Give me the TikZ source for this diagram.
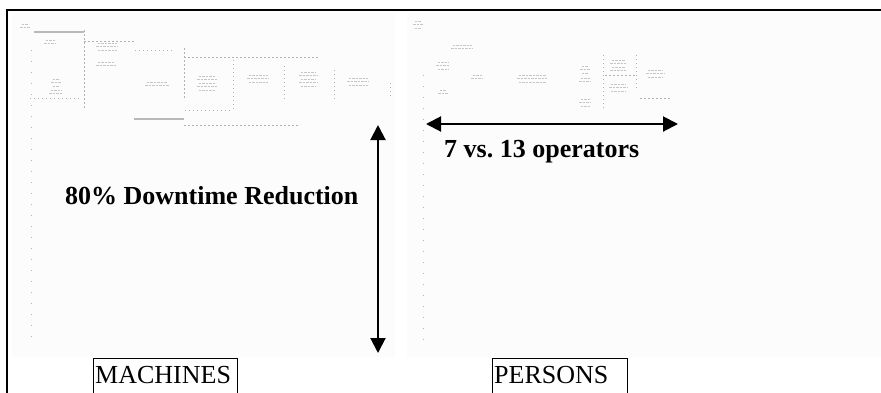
\documentclass[tikz,border=0pt]{standalone}
\usepackage{fontspec}
\setmainfont{Liberation Serif}
\usetikzlibrary{arrows.meta}
\newcommand\myscrib[4]{% cx, top y, width, lines
  \foreach \k in {1,...,#4}{%
    \draw[scr] ({#1-#3/2+mod(\k,2)*1.5},{#2+(\k-1)*3.6}) -- ++({#3-mod(\k,2)*3},0);}}
\begin{document}
\begin{tikzpicture}[x=1pt,y=-1pt,
  big/.style={font=\fontsize{26}{28}\selectfont\bfseries, inner sep=0pt, anchor=base west},
  lab/.style={font=\fontsize{26}{28}\selectfont, inner sep=0pt, anchor=base west},
  dbl/.style={line width=2pt, {Triangle[length=15pt,width=15pt]}-{Triangle[length=15pt,width=15pt]}},
  scr/.style={gray!45, line width=0.9pt, dash pattern=on 2.5pt off 1pt},
  dashln/.style={gray!60, line width=0.6pt, dash pattern=on 2pt off 2pt},
  dotln/.style={gray!60, line width=0.6pt, dash pattern=on 1pt off 3pt},
  barln/.style={gray!55, line width=1.3pt},
  panel/.style={fill=gray!2, draw=none},
  frame/.style={line width=2.2pt},
  capbox/.style={draw, line width=1.2pt, anchor=north west, minimum width=144pt, minimum height=42pt, inner sep=0pt}]
\useasboundingbox (0,0) rectangle (881,392);
\fill[white] (0,0) rectangle (881,392);
% panels (screenshots)
\fill[panel] (12,13) rectangle (395,357);
\fill[panel] (407,13) rectangle (881,357);
% frame
\draw[frame] (7,400) -- (7,10) -- (890,10);
% rulers
\foreach \y in {50,61,...,340} \fill[gray!60] (30.5,\y) rectangle (32,\y+1);
\foreach \y in {75,86,...,345} \fill[gray!60] (422.5,\y) rectangle (424,\y+1);
% left schematic lines
\draw[barln] (34,32) -- (84,32);
\draw[dashln] (84,41) -- (134,41);
\draw[dashln] (84,30) -- (84,110);
\draw[dotln] (30,98) -- (82,98);
\draw[barln] (134,119) -- (184,119);
\draw[dashln] (184,125) -- (300,125);
\draw[dashln] (184,48) -- (184,100);
\draw[dashln] (184,57) -- (318,57);
\draw[dotln] (185,110) -- (230,110);
\draw[dotln] (233,60) -- (233,110);
\draw[dotln] (284,66) -- (284,100);
\draw[dotln] (334,70) -- (334,100);
\draw[dotln] (135,50) -- (175,50);
\draw[dotln] (390,83) -- (390,97);
% left tiny labels
\myscrib{25}{24}{10}{2}
\myscrib{50}{40}{12}{2}
\myscrib{56}{79}{10}{3}
\myscrib{56}{90}{14}{2}
\myscrib{107}{43}{22}{3}
\myscrib{106}{62}{20}{2}
\myscrib{157}{82}{24}{2}
\myscrib{207}{76}{20}{5}
\myscrib{258}{75}{22}{3}
\myscrib{308}{72}{18}{5}
\myscrib{358}{78}{22}{3}
% right schematic
\draw[dotln] (603,55) -- (603,110);
\draw[dotln] (636,55) -- (636,90);
\draw[dashln] (605,75) -- (636,75);
\draw[dashln] (640,98) -- (670,98);
\myscrib{418}{21}{10}{3}
\myscrib{462}{45}{22}{2}
\myscrib{443}{62}{14}{3}
\myscrib{477}{75}{12}{2}
\myscrib{443}{90}{10}{2}
\myscrib{532}{75}{30}{3}
\myscrib{585}{66}{10}{3}
\myscrib{585}{78}{12}{2}
\myscrib{585}{99}{12}{3}
\myscrib{618}{60}{16}{4}
\myscrib{618}{84}{18}{3}
\myscrib{655}{70}{18}{3}
% arrows
\coordinate (vt) at (378,125);
\coordinate (vb) at (378,353);
\draw[dbl] (vt) -- (vb);
\coordinate (hl) at (426,124);
\coordinate (hr) at (678,124);
\draw[dbl] (hl) -- (hr);
% captions
\node[big] (dt) at (65,204) {80\% Downtime Reduction};
\node[big] (ops) at (444,157) {7 vs.\ 13 operators};
\node[capbox] (machbox) at (93,358) {};
\node[lab] (mach) at (95,383) {MACHINES};
\node[capbox, minimum width=135pt] (persbox) at (492,358) {};
\node[lab] (pers) at (494,383) {PERSONS};
\end{tikzpicture}
\end{document}
